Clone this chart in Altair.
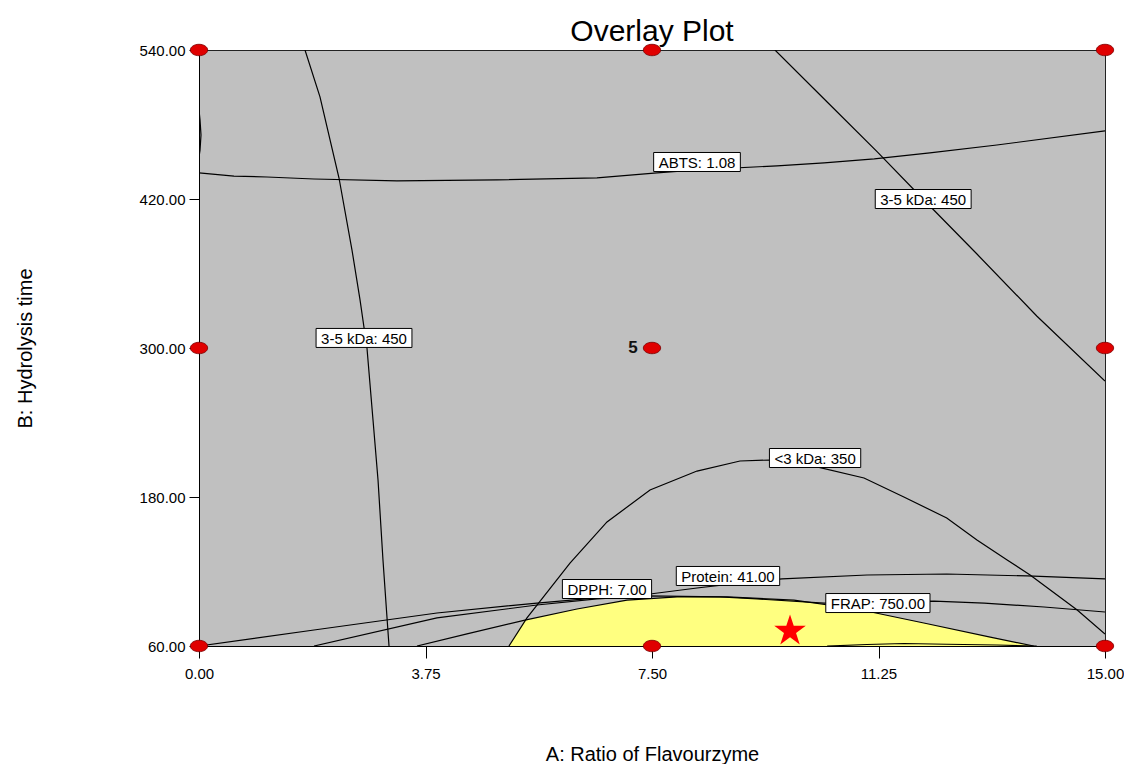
import altair as alt
import pandas as pd

# ---------------- data (A: Ratio of Flavourzyme, B: Hydrolysis time) ----------------
# contour: ABTS 1.08 (main branch)
abts_A = [0.0, 0.579, 1.126, 1.904, 3.278, 4.934, 6.589, 7.583, 8.245, 9.570, 10.35, 11.18, 12.10, 13.21, 15.0]
abts_B = [441.0, 438.5, 437.7, 436.1, 434.6, 435.4, 437.0, 441.0, 443.4, 446.7, 449.1, 452.3, 457.1, 463.5, 474.8]
# contour: ABTS 1.08 (small arc at the left edge)
abts2_A = [0.0, 0.017, 0.033, 0.017, 0.0]
abts2_B = [491.7, 483.6, 471.5, 459.4, 453.8]
# contour: 3-5 kDa 450 (left branch)
kda35L_A = [1.755, 2.003, 2.318, 2.533, 2.666, 2.781, 2.881, 2.964, 3.046, 3.113, 3.146]
kda35L_B = [540.0, 502.2, 436.9, 378.9, 338.7, 300.0, 242.0, 193.7, 129.3, 82.6, 60.0]
# contour: 3-5 kDa 450 (right branch)
kda35R_A = [9.536, 10.40, 11.23, 11.97, 12.88, 13.87, 15.0]
kda35R_B = [540.0, 498.1, 457.9, 420.8, 375.7, 325.8, 273.4]
# contour: <3 kDa 350
kda3_A = [5.132, 5.430, 5.596, 6.142, 6.755, 7.467, 8.245, 8.957, 9.454, 10.23, 11.01, 11.67, 12.38, 12.88, 13.38, 13.76, 14.54, 15.0]
kda3_B = [60.0, 82.6, 93.0, 126.8, 159.9, 185.6, 200.9, 209.0, 209.8, 204.2, 195.3, 180.0, 163.1, 145.4, 129.3, 117.2, 89.0, 69.7]
# contour: Protein 41.00
prot_A = [0.0, 1.904, 3.940, 5.596, 6.589, 7.467, 8.245, 8.791, 9.652, 11.06, 12.38, 13.71, 15.0]
prot_B = [60.0, 72.9, 86.6, 94.6, 98.7, 101.9, 106.7, 109.9, 114.0, 117.2, 118.0, 116.4, 114.0]
# contour: FRAP 750.00
frap_A = [1.904, 3.940, 5.596, 6.589, 7.417, 8.626, 9.238, 10.35, 11.22, 12.17, 13.0, 13.99, 15.0]
frap_B = [60.0, 82.6, 93.0, 97.9, 100.3, 99.5, 97.9, 94.6, 95.4, 96.2, 94.6, 91.4, 87.4]
# contour: DPPH 7.00 (upper edge of the feasible region)
dpph_A = [3.609, 4.437, 5.397, 6.258, 7.086, 7.914, 8.742, 9.851, 10.89, 12.00, 13.10, 13.82]
dpph_B = [60.0, 69.7, 80.9, 89.8, 97.0, 99.5, 99.5, 97.0, 89.8, 78.5, 67.2, 60.0]
# small contour arc along the bottom edge
bot_A = [10.40, 11.06, 11.67, 12.38, 13.21, 13.87]
bot_B = [60.0, 61.2, 62.0, 61.4, 60.8, 60.0]

# contour labels
label_text = ["ABTS: 1.08", "3-5 kDa: 450", "3-5 kDa: 450", "<3 kDa: 350",
              "DPPH: 7.00", "Protein: 41.00", "FRAP: 750.00"]
label_A = [8.245, 11.99, 2.732, 10.20, 6.755, 8.758, 11.24]
label_B = [449.8, 420.0, 308.1, 211.4, 105.9, 116.4, 94.6]

# design points
design_A = [0, 0, 0, 7.5, 7.5, 7.5, 15, 15, 15]
design_B = [60, 300, 540, 60, 300, 540, 60, 300, 540]
center_reps = "5"

# optimum (star)
star_A = [9.785]
star_B = [72.1]

x_ticks = [0, 3.75, 7.5, 11.25, 15]
y_ticks = [60, 180, 300, 420, 540]

# ---------------- build tables ----------------
contours = [
    ("abts", abts_A, abts_B), ("abts2", abts2_A, abts2_B),
    ("k35L", kda35L_A, kda35L_B), ("k35R", kda35R_A, kda35R_B),
    ("k3", kda3_A, kda3_B), ("prot", prot_A, prot_B),
    ("frap", frap_A, frap_B), ("dpph", dpph_A, dpph_B), ("bot", bot_A, bot_B),
]
rows = []
for cid, xs_, ys_ in contours:
    for i, (a, b) in enumerate(zip(xs_, ys_)):
        rows.append({"A": a, "B": b, "cid": cid, "ord": i})
lines_df = pd.DataFrame(rows)

# feasible (yellow) region: left edge from <3 kDa curve, top from DPPH contour
cut = dpph_A[2]
top = [(a, b) for a, b in zip(kda3_A, kda3_B) if a < cut] + list(zip(dpph_A[2:], dpph_B[2:]))
area_df = pd.DataFrame(top, columns=["A", "B"])

pts_df = pd.DataFrame({"A": design_A, "B": design_B})
star_df = pd.DataFrame({"A": star_A, "B": star_B})
five_df = pd.DataFrame({"A": [7.5], "B": [300.0], "t": [center_reps]})

FONT = "Liberation Sans"
W = {'A': .667, 'B': .667, 'T': .611, 'S': .667, ':': .278, ' ': .278, '1': .556, '.': .278,
     '0': .556, '8': .556, '3': .556, '-': .333, '5': .556, 'k': .5, 'D': .722, 'a': .556,
     '4': .556, '<': .584, 'P': .667, 'H': .722, '7': .556, 'r': .333, 'o': .556, 't': .278,
     'e': .556, 'i': .222, 'n': .556, 'F': .611, 'R': .722}
LFS = 15


def text_w(s, fs):
    return sum(W.get(c, .556) for c in s) * fs


# ---------------- scales / axes ----------------
xs = alt.Scale(domain=[0, 15], nice=False, zero=False)
ys = alt.Scale(domain=[60, 540], nice=False, zero=False)
xaxis = alt.Axis(values=x_ticks, format=".2f", title="A: Ratio of Flavourzyme", grid=False,
                 tickSize=12, labelPadding=8, labelFontSize=15, labelFont=FONT, labelColor="black",
                 titleFont=FONT, titleFontSize=20, titleFontWeight="normal", titleColor="black",
                 titleX=453, titleY=108, titleBaseline="middle", titleAlign="center",
                 domainColor="black", tickColor="black", labelFlush=False)
yaxis = alt.Axis(values=y_ticks, format=".2f", title="B: Hydrolysis time", grid=False,
                 tickSize=10, labelPadding=4, labelFontSize=15, labelFont=FONT, labelColor="black",
                 titleFont=FONT, titleFontSize=20, titleFontWeight="normal", titleColor="black",
                 titleX=-174, titleY=298, titleBaseline="middle", titleAlign="center", titleAngle=270,
                 domainColor="black", tickColor="black", labelFlush=False)


def X():
    return alt.X("A:Q", scale=xs, axis=xaxis)


def Y():
    return alt.Y("B:Q", scale=ys, axis=yaxis)


area = alt.Chart(area_df).mark_area(color="#FFFF80", opacity=1).encode(
    x=X(), y=Y(), y2=alt.Y2(datum=60))

lines = alt.Chart(lines_df).mark_line(color="black", strokeWidth=1.2, clip=True).encode(
    x=X(), y=Y(), detail="cid:N", order="ord:Q")

layers = [area, lines]

for t, a, b in zip(label_text, label_A, label_B):
    d = pd.DataFrame({"A": [a], "B": [b], "t": [t]})
    w = text_w(t, LFS) + 10
    box = alt.Chart(d).mark_rect(width=w, height=19, fill="white", stroke="black",
                                 strokeWidth=1).encode(x=X(), y=Y())
    txt = alt.Chart(d).mark_text(font=FONT, fontSize=LFS, color="black", align="center",
                                 baseline="middle", dy=1).encode(x=X(), y=Y(), text="t:N")
    layers += [box, txt]

ellipse = "M-1,0A1,0.66,0,1,1,1,0A1,0.66,0,1,1,-1,0Z"
star_path = ("M0,-1L0.2245,-0.309L0.951,-0.309L0.363,0.118L0.588,0.809L0,0.382"
             "L-0.588,0.809L-0.363,0.118L-0.951,-0.309L-0.2245,-0.309Z")
points = alt.Chart(pts_df).mark_point(shape=ellipse, size=300, filled=True, fill="#E00000",
                                      stroke="#7a0000", strokeWidth=0.8, opacity=1).encode(
    x=X(), y=Y())
star = alt.Chart(star_df).mark_point(shape=star_path, size=1100, filled=True, color="#FF0000",
                                     opacity=1).encode(x=X(), y=Y())
five = alt.Chart(five_df).mark_text(font=FONT, fontSize=17, fontWeight="bold", color="#111111",
                                    align="center", baseline="middle", dx=-19).encode(
    x=X(), y=Y(), text="t:N")
layers += [points, star, five]

chart = alt.layer(*layers).properties(
    width=906, height=596,
    title=alt.Title("Overlay Plot", font=FONT, fontSize=30, fontWeight="normal", color="black",
                    anchor="middle", baseline="bottom", offset=4, dy=38),
    autosize=alt.AutoSizeParams(type="none"),
    padding={"left": 191, "top": 42, "right": 19, "bottom": 118},
).configure_view(fill="#C0C0C0", stroke="#222222", strokeWidth=1)

chart.save("out.html", embed_options={"renderer": "svg", "actions": False})
